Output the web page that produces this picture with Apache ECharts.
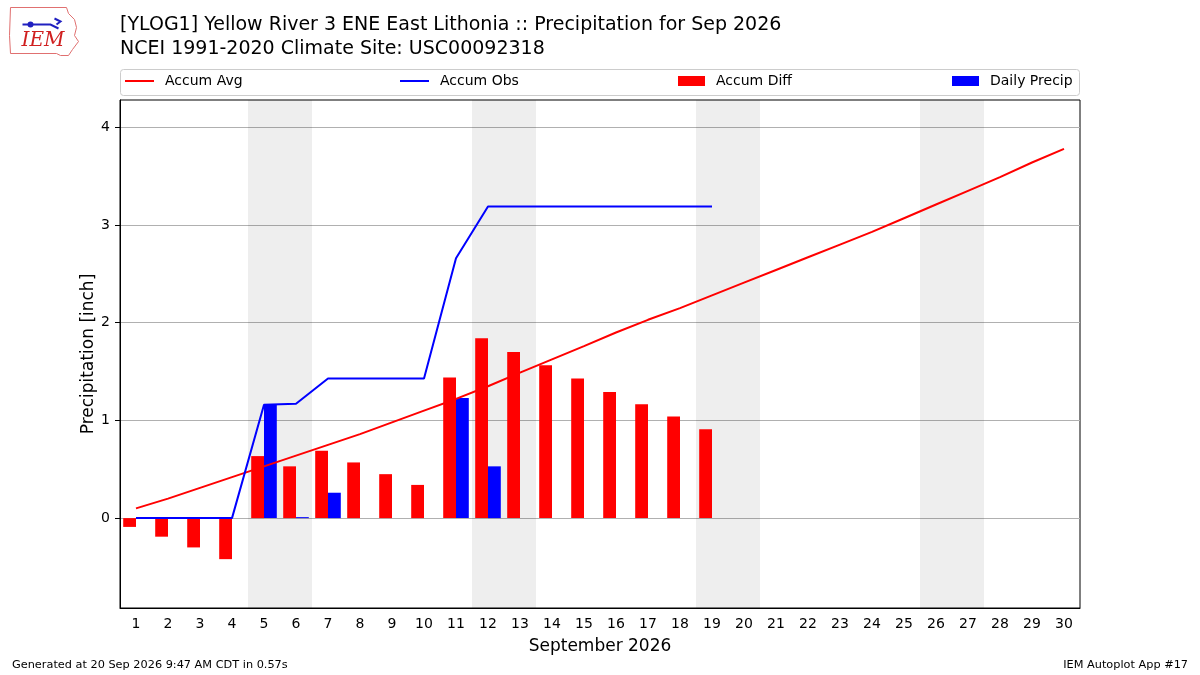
<!DOCTYPE html>
<html>
<head>
<meta charset="utf-8">
<script src="https://cdn.jsdelivr.net/npm/echarts@6/dist/echarts.min.js"></script>
<style>
  html, body { margin: 0; padding: 0; background: #fff; }
  #chart { width: 1200px; height: 675px; }
</style>
</head>
<body>
<div id="chart"></div>
<script>
"use strict";

var FONT = 'DejaVu Sans';
var LINE_ICON = 'path://M0,0H29V2H0Z';

var days = ['1', '2', '3', '4', '5', '6', '7', '8', '9', '10', '11', '12', '13', '14', '15',
	'16', '17', '18', '19', '20', '21', '22', '23', '24', '25', '26', '27', '28', '29', '30'];

var accumAvg = [0.10, 0.20, 0.31, 0.42, 0.53, 0.64, 0.75, 0.86, 0.98, 1.10, 1.22, 1.35, 1.49, 1.625, 1.76,
	1.90, 2.03, 2.15, 2.28, 2.41, 2.54, 2.67, 2.80, 2.93, 3.07, 3.21, 3.35, 3.49, 3.64, 3.78];

var accumObs = [0, 0, 0, 0, 1.16, 1.17, 1.43, 1.43, 1.43, 1.43, 2.66, 3.19, 3.19, 3.19, 3.19,
	3.19, 3.19, 3.19, 3.19];

var accumDiff = [-0.09, -0.19, -0.30, -0.42, 0.635, 0.53, 0.69, 0.57, 0.45, 0.34, 1.44, 1.84, 1.70, 1.565, 1.43,
	1.29, 1.165, 1.04, 0.91];

var dailyPrecip = [0, 0, 0, 0, 1.16, 0.01, 0.26, 0, 0, 0, 1.23, 0.53, 0, 0, 0,
	0, 0, 0, 0];

// weekend shading, day boundaries
var weekends = [[4.5, 6.5], [11.5, 13.5], [18.5, 20.5], [25.5, 27.5]];

var yTicks = [0, 1, 2, 3, 4];

var chart = echarts.init(document.getElementById('chart'));

function legendAt(left, name, icon, w, h) {
	return {
		data: [{ name: name, icon: icon }],
		left: left,
		top: 74,
		padding: 0,
		itemWidth: w,
		itemHeight: h,
		itemGap: 0,
		textStyle: { fontFamily: FONT, fontSize: 14, color: '#000', padding: [0, 0, 0, 6] },
		selectedMode: false
	};
}

chart.setOption({
	animation: false,
	backgroundColor: '#fff',
	title: {
		text: '[YLOG1] Yellow River 3 ENE East Lithonia :: Precipitation for Sep 2026\nNCEI 1991-2020 Climate Site: USC00092318',
		left: 120,
		top: 13,
		padding: 0,
		textStyle: { fontFamily: FONT, fontSize: 19, fontWeight: 'normal', color: '#000', lineHeight: 24 }
	},
	legend: [
		legendAt(125, 'Accum Avg', LINE_ICON, 29, 12),
		legendAt(400, 'Accum Obs', LINE_ICON, 29, 12),
		legendAt(678, 'Accum Diff', 'rect', 27, 10),
		legendAt(952, 'Daily Precip', 'rect', 27, 10)
	],
	grid: {
		left: 120,
		right: 120,
		top: 100,
		bottom: 67,
		show: true,
		borderColor: '#000',
		borderWidth: 1,
		containLabel: false
	},
	xAxis: [{
		type: 'category',
		data: days,
		boundaryGap: true,
		name: 'September 2026',
		nameLocation: 'middle',
		nameGap: 30,
		nameMoveOverlap: false,
		nameTextStyle: { fontFamily: FONT, fontSize: 17, color: '#000' },
		axisLine: { onZero: false, lineStyle: { color: '#000' } },
		axisTick: { alignWithLabel: true, length: 5, lineStyle: { color: '#000' } },
		axisLabel: { fontFamily: FONT, fontSize: 14, color: '#000', margin: 9, interval: 0 },
		splitLine: { show: false }
	}, {
		type: 'value',
		min: 0.5,
		max: 30.5,
		show: false
	}],
	yAxis: {
		type: 'value',
		min: -0.92,
		max: 4.28,
		name: 'Precipitation [inch]',
		nameLocation: 'middle',
		nameGap: 23,
		nameMoveOverlap: false,
		nameTextStyle: { fontFamily: FONT, fontSize: 17, color: '#000' },
		axisLine: { show: true, lineStyle: { color: '#000' } },
		axisTick: { show: true, length: 5, customValues: yTicks, lineStyle: { color: '#000' } },
		axisLabel: { fontFamily: FONT, fontSize: 14, color: '#000', margin: 10, customValues: yTicks },
		splitLine: { show: true, customValues: yTicks, lineStyle: { color: '#b0b0b0', width: 1 } }
	},
	series: [{
		name: 'shade',
		type: 'line',
		xAxisIndex: 1,
		data: [[0.5, 0], [30.5, 0]],
		symbol: 'none',
		lineStyle: { opacity: 0 },
		silent: true,
		z: 0,
		markArea: {
			silent: true,
			itemStyle: { color: 'rgba(0, 0, 0, 0.067)' },
			data: weekends.map(function(w) { return [{ xAxis: w[0] }, { xAxis: w[1] }]; })
		}
	}, {
		name: 'Accum Diff',
		type: 'bar',
		data: accumDiff,
		barWidth: '40%',
		barGap: '0%',
		itemStyle: { color: '#ff0000' },
		z: 2
	}, {
		name: 'Daily Precip',
		type: 'bar',
		data: dailyPrecip,
		barWidth: '40%',
		barGap: '0%',
		itemStyle: { color: '#0000ff' },
		z: 2
	}, {
		name: 'Accum Avg',
		type: 'line',
		data: accumAvg,
		symbol: 'none',
		lineStyle: { color: '#ff0000', width: 2 },
		itemStyle: { color: '#ff0000' },
		z: 3
	}, {
		name: 'Accum Obs',
		type: 'line',
		data: accumObs,
		symbol: 'none',
		lineStyle: { color: '#0000ff', width: 2 },
		itemStyle: { color: '#0000ff' },
		z: 3
	}],
	graphic: [{
		type: 'rect',
		shape: { x: 120.5, y: 69.5, width: 959, height: 26, r: 3 },
		style: { fill: 'none', stroke: '#cccccc', lineWidth: 1 },
		silent: true
	}, {
		type: 'group',
		left: 9,
		top: 7,
		children: [{
			type: 'polyline',
			shape: { points: [[2, 2], [58, 2], [60, 8], [66, 14], [68, 22], [66, 30], [70, 36], [64, 44], [60, 50], [52, 50], [48, 48], [2, 48], [1, 30], [2, 2]] },
			style: { stroke: '#e07070', fill: '#fff', lineWidth: 1 }
		}, {
			type: 'polyline',
			shape: { points: [[14, 19], [42, 19], [50, 23]] },
			style: { stroke: '#2020c0', lineWidth: 2, fill: 'none' }
		}, {
			type: 'polyline',
			shape: { points: [[46, 13], [52, 16], [48, 19]] },
			style: { stroke: '#2020c0', lineWidth: 2, fill: 'none' }
		}, {
			type: 'circle',
			shape: { cx: 22, cy: 19, r: 3 },
			style: { fill: '#2020c0' }
		}, {
			type: 'text',
			style: { text: 'IEM', x: 13, y: 25, fill: '#d02020', font: 'italic 20px "DejaVu Serif"' }
		}]
	}, {
		type: 'text',
		left: 12,
		top: 660,
		style: { text: 'Generated at 20 Sep 2026 9:47 AM CDT in 0.57s', fill: '#000', font: '11.3px "DejaVu Sans"' }
	}, {
		type: 'text',
		right: 12,
		top: 660,
		style: { text: 'IEM Autoplot App #17', fill: '#000', font: '11.3px "DejaVu Sans"' }
	}]
});
</script>
</body>
</html>
